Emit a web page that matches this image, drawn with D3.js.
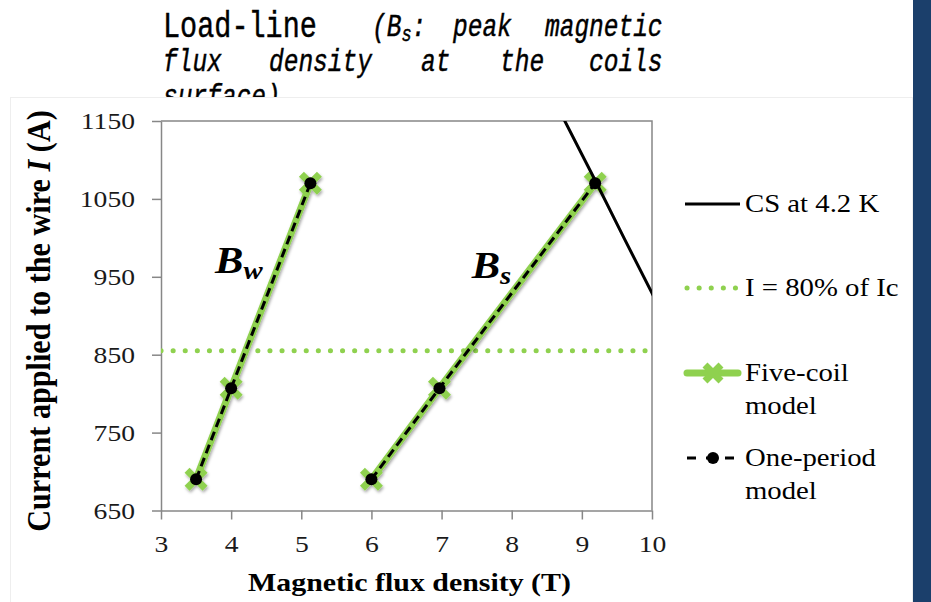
<!DOCTYPE html>
<html>
<head>
<meta charset="utf-8">
<script src="https://cdn.jsdelivr.net/npm/d3@7"></script>
<style>
  body { margin: 0; background: #fff; }
  svg { display: block; }
</style>
</head>
<body>
<div id="chart"></div>
<script>
// load-line data
const xTicks = [3, 4, 5, 6, 7, 8, 9, 10]
const yTicks = [650, 750, 850, 950, 1050, 1150]

const bwFlux = [3.5, 4.0, 5.13]
const bwCurrent = [690, 807, 1070]
const bsFlux = [6.0, 6.97, 9.19]
const bsCurrent = [690, 807, 1070]

// five-coil and one-period models sit on top of each other
const fiveCoilBw = [690, 807, 1070]
const fiveCoilBs = [690, 807, 1070]

const csFlux = [8.7, 9.2, 9.6, 10.0, 10.4]
const csCurrent = [1160, 1072, 1000, 929, 858]

const limitCurrent = 855

const legendLabels = [['CS at 4.2 K'], ['I = 80% of Ic'], ['Five-coil', 'model'], ['One-period', 'model']]

const green = '#8fd14f',
  grey = '#878787',
  SX = 1.15 // the chart picture is stretched sideways a bit

const W = 931, H = 602
const svg = d3.select('#chart')
  .append('svg')
  .attr('width', W)
  .attr('height', H)

const defs = svg.append('defs')
defs.append('clipPath').attr('id', 'plot-clip')
  .append('rect').attr('x', 161).attr('y', 121).attr('width', 491).attr('height', 389.5)
defs.append('filter').attr('id', 'shadow')
  .attr('x', '-20%').attr('y', '-20%').attr('width', '140%').attr('height', '140%')
  .append('feDropShadow')
  .attr('dx', 1).attr('dy', 2).attr('stdDeviation', 1.5)
  .attr('flood-color', '#000').attr('flood-opacity', 0.35)

// slide title (partly hidden behind the chart picture)
const title = svg.append('g')
  .attr('font-family', '"Liberation Mono", monospace')
  .attr('fill', '#000')
  .attr('stroke', '#000')
  .attr('stroke-width', 0.35)
title.append('text')
  .attr('transform', 'translate(163,37) scale(1,1.3)')
  .attr('font-size', 28.5)
  .text('Load-line')

const italicWords = [
  ['peak', 453, 36], ['magnetic', 545, 36],
  ['flux', 163, 71], ['density', 269, 71], ['at', 421, 71], ['the', 500, 71], ['coils', 589, 71],
  ['surface)', 163, 106]
]
const it = title.append('g').attr('font-style', 'italic').attr('font-size', 24.5)
it.selectAll('text.w')
  .data(italicWords)
  .enter()
  .append('text')
  .attr('class', 'w')
  .attr('transform', d => `translate(${d[1]},${d[2]}) scale(1,1.25)`)
  .text(d => d[0])
const bsT = it.append('text').attr('transform', 'translate(372,36) scale(1,1.25)')
bsT.append('tspan').text('(B')
bsT.append('tspan').attr('font-size', 17).attr('dy', 4).text('s')
bsT.append('tspan').attr('dy', -4).text(':')

// chart picture background
svg.append('rect')
  .attr('x', 10.5).attr('y', 97.5)
  .attr('width', 902).attr('height', 520)
  .attr('fill', '#fff')
  .attr('stroke', '#eeeeee')

// right-hand slide bar
svg.append('rect')
  .attr('x', 913).attr('y', 0)
  .attr('width', 18).attr('height', H)
  .attr('fill', '#1b3f6b')

const x = d3.scaleLinear().domain([3, 10]).range([161, 652])
const y = d3.scaleLinear().domain([650, 1150]).range([510.5, 121])

// axes
const xAxis = svg.append('g')
  .attr('transform', `translate(0,${y(650)})`)
  .call(d3.axisBottom(x).tickValues(xTicks).tickFormat(d3.format('d')).tickSize(9).tickSizeOuter(0))
const yAxis = svg.append('g')
  .attr('transform', `translate(${x(3)},0)`)
  .call(d3.axisLeft(y).tickValues(yTicks).tickFormat(d3.format('d')).tickSize(9).tickSizeOuter(0))

;[xAxis, yAxis].forEach(a => {
  a.select('.domain').attr('stroke', grey).attr('stroke-width', 1.5)
  a.selectAll('.tick line').attr('stroke', grey).attr('stroke-width', 1.5)
  a.selectAll('.tick text')
    .attr('font-family', '"Liberation Serif", serif')
    .attr('font-size', 24)
    .attr('fill', '#1a1a1a')
})
xAxis.selectAll('.tick text')
  .attr('y', 41.5).attr('dy', null)
  .attr('transform', `scale(${SX},1)`)
yAxis.selectAll('.tick text')
  .attr('x', -26 / SX)
  .attr('transform', `scale(${SX},1)`)

// frame on top and right
svg.append('path')
  .attr('d', `M${x(3)},${y(1150)}H${x(10)}V${y(650)}`)
  .attr('fill', 'none')
  .attr('stroke', grey)
  .attr('stroke-width', 1.5)

// axis titles
svg.append('text')
  .attr('transform', `translate(${(x(3) + x(10)) / 2 + 3},591) scale(${SX},1)`)
  .attr('text-anchor', 'middle')
  .attr('font-family', '"Liberation Serif", serif')
  .attr('font-weight', 'bold')
  .attr('font-size', 26)
  .text('Magnetic flux density (T)')

const yTitle = svg.append('text')
  .attr('transform', `translate(50,321) rotate(-90) scale(1,${SX})`)
  .attr('text-anchor', 'middle')
  .attr('font-family', '"Liberation Serif", serif')
  .attr('font-weight', 'bold')
  .attr('font-size', 30.2)
yTitle.append('tspan').text('Current applied to the wire ')
yTitle.append('tspan').attr('font-style', 'italic').text('I')
yTitle.append('tspan').text(' (A)')

// plot
const plot = svg.append('g').attr('clip-path', 'url(#plot-clip)')

const line = d3.line().x(d => x(d[0])).y(d => y(d[1]))

plot.append('path')
  .attr('d', line([[3, limitCurrent], [10, limitCurrent]]))
  .attr('stroke', green)
  .attr('stroke-width', 5)
  .attr('stroke-linecap', 'round')
  .attr('stroke-dasharray', '0.1 12')
  .attr('fill', 'none')

const crossPath = s => `M${-s},${-s}L${s},${s}M${-s},${s}L${s},${-s}`

const fiveCoil = [d3.zip(bwFlux, fiveCoilBw), d3.zip(bsFlux, fiveCoilBs)]
const onePeriod = [d3.zip(bwFlux, bwCurrent), d3.zip(bsFlux, bsCurrent)]

const fc = plot.append('g').attr('filter', 'url(#shadow)')
fc.selectAll('path.fc-line')
  .data(fiveCoil)
  .enter()
  .append('path')
  .attr('class', 'fc-line')
  .attr('d', line)
  .attr('stroke', green)
  .attr('stroke-width', 7)
  .attr('fill', 'none')
fc.selectAll('path.fc-mark')
  .data(fiveCoil.flat())
  .enter()
  .append('path')
  .attr('class', 'fc-mark')
  .attr('transform', d => `translate(${x(d[0])},${y(d[1])})`)
  .attr('d', crossPath(9))
  .attr('stroke', green)
  .attr('stroke-width', 7)

plot.selectAll('path.op-line')
  .data(onePeriod)
  .enter()
  .append('path')
  .attr('class', 'op-line')
  .attr('d', line)
  .attr('stroke', '#000')
  .attr('stroke-width', 3)
  .attr('stroke-dasharray', '9 5')
  .attr('fill', 'none')

plot.append('path')
  .attr('d', line(d3.zip(csFlux, csCurrent)))
  .attr('stroke', '#000')
  .attr('stroke-width', 3)
  .attr('fill', 'none')

plot.selectAll('circle.op-dot')
  .data(onePeriod.flat())
  .enter()
  .append('circle')
  .attr('class', 'op-dot')
  .attr('cx', d => x(d[0]))
  .attr('cy', d => y(d[1]))
  .attr('r', 6)
  .attr('fill', '#000')

// B_w / B_s labels
const annotations = [
  { t: 'B', sub: 'w', at: [3.77, 955] },
  { t: 'B', sub: 's', at: [7.43, 949] }
]
const ann = svg.selectAll('text.ann')
  .data(annotations)
  .enter()
  .append('text')
  .attr('class', 'ann')
  .attr('transform', d => `translate(${x(d.at[0])},${y(d.at[1])}) scale(${SX},1)`)
  .attr('font-family', '"Liberation Serif", serif')
  .attr('font-weight', 'bold')
  .attr('font-style', 'italic')
  .attr('font-size', 37)
ann.append('tspan').text(d => d.t)
ann.append('tspan').attr('font-size', 25).attr('dy', 6).text(d => d.sub)

// legend
const legendY = [204, 288, 373, 458]
const lg = svg.append('g')
const rows = lg.selectAll('g.row')
  .data(legendLabels)
  .enter()
  .append('g')
  .attr('class', 'row')
  .attr('transform', (d, i) => `translate(685,${legendY[i]})`)

rows.each(function (d, i) {
  const g = d3.select(this)
  if (i === 0) {
    g.append('line').attr('x2', 55).attr('stroke', '#000').attr('stroke-width', 3)
  } else if (i === 1) {
    g.append('line').attr('x1', 2).attr('x2', 55)
      .attr('stroke', green).attr('stroke-width', 5)
      .attr('stroke-linecap', 'round').attr('stroke-dasharray', '0.1 12')
  } else if (i === 2) {
    g.append('line').attr('x1', 2).attr('x2', 53)
      .attr('stroke', green).attr('stroke-width', 7).attr('stroke-linecap', 'round')
    g.append('path').attr('transform', 'translate(28,0)')
      .attr('d', crossPath(8)).attr('stroke', green).attr('stroke-width', 7)
  } else {
    g.append('line').attr('x1', 2).attr('x2', 55)
      .attr('stroke', '#000').attr('stroke-width', 3).attr('stroke-dasharray', '9 10')
    g.append('circle').attr('cx', 28).attr('r', 6).attr('fill', '#000')
  }
  d.forEach((s, k) => {
    g.append('text')
      .attr('transform', `translate(60,${8 + k * 33}) scale(${SX},1)`)
      .attr('font-family', '"Liberation Serif", serif')
      .attr('font-size', 25)
      .text(s)
  })
})
</script>
</body>
</html>
